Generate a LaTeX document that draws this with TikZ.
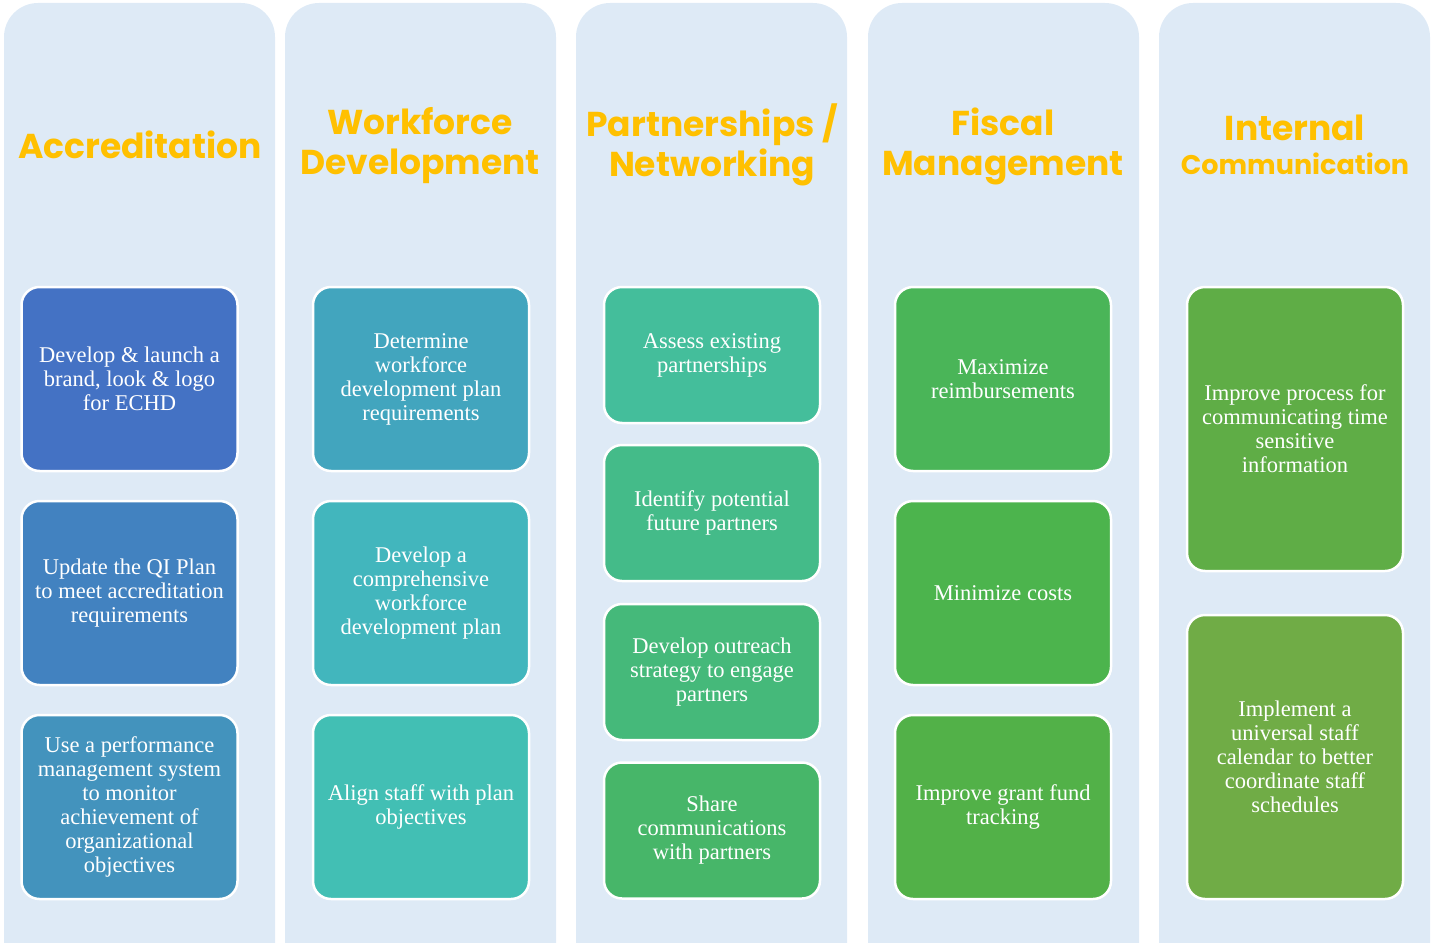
\documentclass[tikz,border=0pt]{standalone}
\usepackage{fontspec}
\setmainfont{Liberation Serif}
\setsansfont{Poppins}
\begin{document}
\begin{tikzpicture}[x=1pt,y=-1pt,
  column/.style={fill=colbg, rounded corners=34pt},
  task/.style={draw=white, line width=2.5pt, rounded corners=18pt, minimum width=216pt,
    text=white, align=center, font=\fontsize{22.5}{24}\selectfont, inner sep=0pt},
  head/.style={text=headc, align=center, font=\sffamily\bfseries\fontsize{34.5}{40}\selectfont}]
\definecolor{colbg}{HTML}{DEEAF6}
\definecolor{headc}{HTML}{FFC000}
\definecolor{ca}{HTML}{4472C4}
\definecolor{cb}{HTML}{4282C0}
\definecolor{cc}{HTML}{4393BD}
\definecolor{cd}{HTML}{42A5BE}
\definecolor{ce}{HTML}{42B6BD}
\definecolor{cf}{HTML}{42BFB4}
\definecolor{cg}{HTML}{44BE9B}
\definecolor{ch}{HTML}{44BB89}
\definecolor{ci}{HTML}{45B97A}
\definecolor{cj}{HTML}{47B669}
\definecolor{ck}{HTML}{4AB558}
\definecolor{cl}{HTML}{4CB44D}
\definecolor{cm}{HTML}{52B148}
\definecolor{cn}{HTML}{5FAD46}
\definecolor{co}{HTML}{70AC46}
\useasboundingbox (0,0) rectangle (1431,942);
% background columns
\foreach \x in {4,285,576,868,1159}
  \fill[column] (\x,3) rectangle ++(271,975);
% headers
\node[head] (h1) at (140,145) {Accreditation};
\node[head] (h2) at (420,146) {Workforce\\Development};
\node[head] (h3) at (712,145) {Partnerships /\\Networking};
\node[head] (h4) at (1003,146) {Fiscal\\Management};
\node[head, font=\sffamily\bfseries\fontsize{27}{34}\selectfont] (h5) at (1295,145)
  {{\fontsize{34.5}{40}\selectfont Internal}\\{\fontsize{27}{34}\selectfont Communication}};
% Accreditation
\node[task, fill=ca, minimum height=184pt] (a1) at (129.5,379) {Develop \& launch a\\brand, look \& logo\\for ECHD};
\node[task, fill=cb, minimum height=184pt] (a2) at (129.5,593) {Update the QI Plan\\to meet accreditation\\requirements};
\node[task, fill=cc, minimum height=184pt] (a3) at (129.5,807) {Use a performance\\management system\\to monitor\\achievement of\\organizational\\objectives};
% Workforce Development
\node[task, fill=cd, minimum height=184pt] (w1) at (421,379) {Determine\\workforce\\development plan\\requirements};
\node[task, fill=ce, minimum height=184pt] (w2) at (421,593) {Develop a\\comprehensive\\workforce\\development plan};
\node[task, fill=cf, minimum height=184pt] (w3) at (421,807) {Align staff with plan\\objectives};
% Partnerships / Networking
\node[task, fill=cg, minimum height=136pt] (p1) at (712,355) {Assess existing\\partnerships};
\node[task, fill=ch, minimum height=136pt] (p2) at (712,513) {Identify potential\\future partners};
\node[task, fill=ci, minimum height=136pt] (p3) at (712,672) {Develop outreach\\strategy to engage\\partners};
\node[task, fill=cj, minimum height=136pt] (p4) at (712,830.5) {Share\\communications\\with partners};
% Fiscal Management
\node[task, fill=ck, minimum height=184pt] (f1) at (1003,379) {Maximize\\reimbursements};
\node[task, fill=cl, minimum height=184pt] (f2) at (1003,593) {Minimize costs};
\node[task, fill=cm, minimum height=184pt] (f3) at (1003,807) {Improve grant fund\\tracking};
% Internal Communication
\node[task, fill=cn, minimum height=284pt] (i1) at (1295,429) {Improve process for\\communicating time\\sensitive\\information};
\node[task, fill=co, minimum height=284pt] (i2) at (1295,757) {Implement a\\universal staff\\calendar to better\\coordinate staff\\schedules};
\end{tikzpicture}
\end{document}
